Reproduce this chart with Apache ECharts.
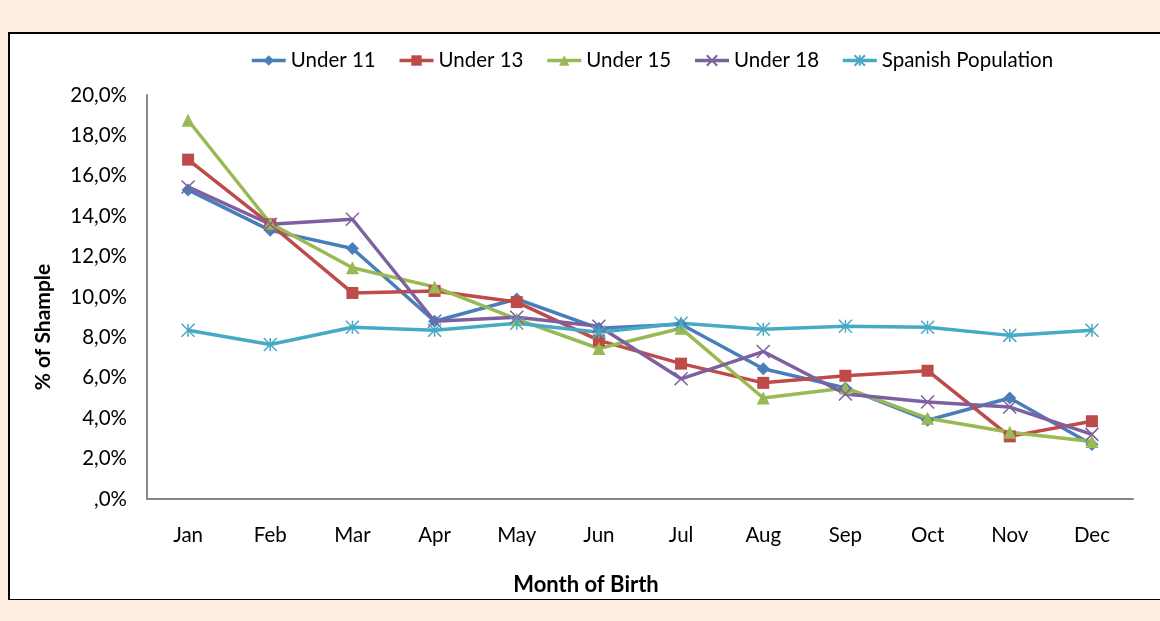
<!DOCTYPE html>
<html>
<head>
<meta charset="utf-8">
<script src="https://cdn.jsdelivr.net/npm/echarts@6/dist/echarts.min.js"></script>
<style>
  html, body { margin: 0; padding: 0; }
  body { width: 1160px; height: 621px; background: #fdede3; position: relative; overflow: hidden; }
  #box {
    position: absolute; left: 8px; top: 32px; width: 1160px; height: 565px;
    background: #fff; border-top: 2px solid #000; border-left: 2px solid #000; border-bottom: 1px solid #000;
  }
  #chart { position: absolute; left: 0; top: 0; width: 1160px; height: 621px; }
</style>
</head>
<body>
<div id="box"></div>
<div id="chart"></div>
<script>
var months = ['Jan', 'Feb', 'Mar', 'Apr', 'May', 'Jun', 'Jul', 'Aug', 'Sep', 'Oct', 'Nov', 'Dec']
var seriesNames = ['Under 11', 'Under 13', 'Under 15', 'Under 18', 'Spanish Population']
var under11 = [15.3, 13.3, 12.4, 8.8, 9.9, 8.45, 8.65, 6.45, 5.5, 3.9, 5.0, 2.7]
var under13 = [16.8, 13.6, 10.2, 10.3, 9.75, 7.85, 6.7, 5.75, 6.1, 6.35, 3.1, 3.85]
var under15 = [18.75, 13.65, 11.45, 10.5, 8.9, 7.45, 8.45, 5.0, 5.5, 4.0, 3.3, 2.85]
var under18 = [15.45, 13.6, 13.85, 8.8, 9.0, 8.55, 5.95, 7.3, 5.2, 4.8, 4.55, 3.2]
var spanish = [8.35, 7.65, 8.5, 8.35, 8.7, 8.25, 8.7, 8.4, 8.55, 8.5, 8.1, 8.35]

var colors = ['#4a7ebb', '#be4b48', '#98b954', '#7d60a0', '#46aac5']
var symbols = [
  'diamond',
  'rect',
  'triangle',
  'path://M0 0 L10 10 M10 0 L0 10',
  'path://M0 0 L10 10 M10 0 L0 10 M5 0 L5 10'
]
var symbolSizes = [13, 12, 13, 13, 13]
var allData = [under11, under13, under15, under18, spanish]

var font = 'Lato, "Open Sans", sans-serif'

var series = allData.map(function (d, i) {
  return {
    name: seriesNames[i],
    type: 'line',
    data: d,
    symbol: symbols[i],
    symbolSize: symbolSizes[i],
    showAllSymbol: true,
    lineStyle: { color: colors[i], width: 3.5 },
    itemStyle: { color: colors[i], borderColor: colors[i], borderWidth: i >= 3 ? 1.5 : 0 }
  }
})

var chart = echarts.init(document.getElementById('chart'))
chart.setOption({
  backgroundColor: 'transparent',
  animation: false,
  color: colors,
  grid: { left: 147, right: 27, top: 95, bottom: 122 },
  legend: {
    data: seriesNames,
    left: 245,
    top: 45,
    itemWidth: 34,
    itemHeight: 13,
    itemGap: 22,
    lineStyle: { width: 3.5 },
    textStyle: { fontFamily: font, fontSize: 20.5, color: '#000' }
  },
  xAxis: {
    type: 'category',
    data: months,
    boundaryGap: true,
    axisLine: { lineStyle: { color: '#868686', width: 2 } },
    axisTick: { show: false },
    axisLabel: { margin: 26, fontFamily: font, fontSize: 20.5, color: '#000' }
  },
  yAxis: {
    type: 'value',
    min: 0,
    max: 20,
    interval: 2,
    splitLine: { show: false },
    axisLine: { show: true, lineStyle: { color: '#868686', width: 2 } },
    axisTick: { show: false },
    axisLabel: {
      margin: 20,
      fontFamily: font,
      fontSize: 20.5,
      color: '#000',
      formatter: function (v) {
        return v === 0 ? ',0%' : v.toFixed(1).replace('.', ',') + '%'
      }
    }
  },
  graphic: [
    {
      type: 'text',
      x: 43,
      y: 327,
      rotation: Math.PI / 2,
      style: {
        text: '% of Shample',
        font: 'bold 21px ' + font,
        fill: '#000',
        textAlign: 'center',
        textVerticalAlign: 'middle'
      }
    },
    {
      type: 'text',
      x: 586,
      y: 585,
      style: {
        text: 'Month of Birth',
        font: 'bold 22px ' + font,
        fill: '#000',
        textAlign: 'center',
        textVerticalAlign: 'middle'
      }
    }
  ],
  series: series
})
</script>
</body>
</html>
